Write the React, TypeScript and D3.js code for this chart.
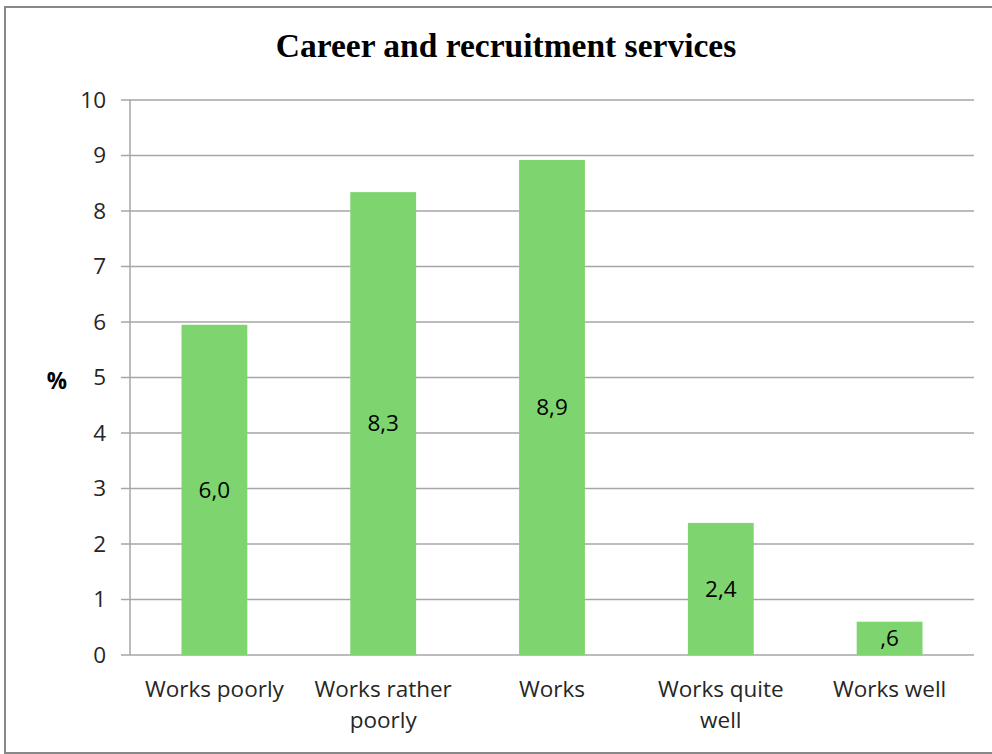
import React from "react";
import * as d3 from "d3";

const categories: string[][] = [
  ["Works poorly"],
  ["Works rather", "poorly"],
  ["Works"],
  ["Works quite", "well"],
  ["Works well"],
];
const values: number[] = [5.95, 8.34, 8.92, 2.38, 0.6];
const valueLabels: string[] = ["6,0", "8,3", "8,9", "2,4", ",6"];
const yTicks: number[] = [0, 1, 2, 3, 4, 5, 6, 7, 8, 9, 10];
const title = "Career and recruitment services";
const yAxisLabel = "%";

const W = 992;
const H = 754;
const plot = { left: 130, right: 974, top: 100, bottom: 655 };

export default function App() {
  const x = d3
    .scaleBand<number>()
    .domain(d3.range(categories.length))
    .range([plot.left, plot.right])
    .padding(0);
  const y = d3.scaleLinear().domain([0, 10]).range([plot.bottom, plot.top]);
  const barW = x.bandwidth() * 0.39;
  const font = "'Open Sans', sans-serif";
  const textColor = "#262626";
  const fs = 22.5;

  return (
    <svg
      width={W}
      height={H}
      style={{ position: "absolute", left: 0, top: 0, background: "#fff" }}
    >
      <rect x={5} y={7} width={1010} height={746} fill="#fff" stroke="#888" strokeWidth={2} />
      <text
        x={506}
        y={57}
        textAnchor="middle"
        fontFamily="'Liberation Serif', serif"
        fontWeight="bold"
        fontSize={33.5}
        fill="#000"
      >
        {title}
      </text>
      {yTicks.map((t) => (
        <g key={t}>
          <line x1={121} x2={plot.right} y1={y(t)} y2={y(t)} stroke="#a6a6a6" strokeWidth={1.5} />
          <text
            x={106}
            y={y(t)}
            dy="0.35em"
            textAnchor="end"
            fontFamily={font}
            fontSize={fs}
            fill={textColor}
          >
            {t}
          </text>
        </g>
      ))}
      <line x1={plot.left} x2={plot.left} y1={plot.top} y2={plot.bottom} stroke="#a6a6a6" strokeWidth={1.5} />
      <text
        x={57}
        y={381}
        dy="0.35em"
        textAnchor="middle"
        fontFamily={font}
        fontWeight="bold"
        fontSize={fs}
        fill="#000"
      >
        {yAxisLabel}
      </text>
      {values.map((v, i) => {
        const cx = (x(i) as number) + x.bandwidth() / 2;
        return (
          <g key={i}>
            <rect x={cx - barW / 2} y={y(v)} width={barW} height={y(0) - y(v)} fill="#7ed56f" />
            <text
              x={cx}
              y={(y(v) + y(0)) / 2}
              dy="0.35em"
              textAnchor="middle"
              fontFamily={font}
              fontSize={fs}
              fill="#000"
            >
              {valueLabels[i]}
            </text>
            {categories[i].map((line, j) => (
              <text
                key={j}
                x={cx}
                y={697 + j * 31}
                textAnchor="middle"
                fontFamily={font}
                fontSize={fs}
                fill={textColor}
              >
                {line}
              </text>
            ))}
          </g>
        );
      })}
    </svg>
  );
}
